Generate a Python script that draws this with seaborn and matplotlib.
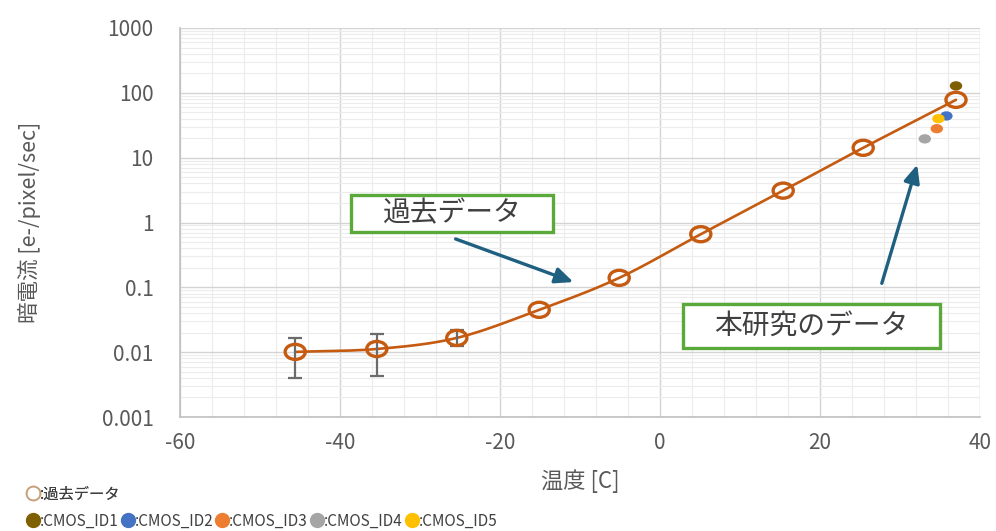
import numpy as np
import pandas as pd
import matplotlib
matplotlib.use("Agg")
import matplotlib.pyplot as plt
from matplotlib.ticker import MultipleLocator, LogLocator, FixedLocator, NullFormatter
from matplotlib.lines import Line2D
from matplotlib.patches import Rectangle
from matplotlib.path import Path
import seaborn as sns

# ---- data ----
past_temp = [-45.6, -35.4, -25.4, -15.1, -5.1, 5.1, 15.4, 25.4, 37.0]
past_dark = [0.0101, 0.0112, 0.0166, 0.045, 0.14, 0.66, 3.1, 14.2, 78.0]
err_temp = [-45.6, -35.4, -25.4]
err_center = [0.0101, 0.0112, 0.0166]
err_high = [0.0165, 0.0188, 0.0218]
err_low = [0.0040, 0.0043, 0.0123]

cmos_names = ["CMOS_ID1", "CMOS_ID2", "CMOS_ID3", "CMOS_ID4", "CMOS_ID5"]
cmos_temp = [37.0, 35.8, 34.6, 33.1, 34.8]
cmos_dark = [128.0, 44.0, 28.0, 19.5, 40.0]
cmos_colors = ["#7F6000", "#4472C4", "#ED7D31", "#A5A5A5", "#FFC000"]

x_ticks = [-60, -40, -20, 0, 20, 40]
y_ticks = [0.001, 0.01, 0.1, 1, 10, 100, 1000]
y_tick_labels = ["0.001", "0.01", "0.1", "1", "10", "100", "1000"]

LINE_C = "#C55A11"
TXT_C = "#595959"

sns.set_theme(style="white")
plt.rcParams['font.family'] = ['Noto Sans CJK JP', 'DejaVu Sans']
plt.rcParams['axes.unicode_minus'] = False

fig = plt.figure(figsize=(9.96, 5.31), dpi=100)
ax = fig.add_axes([180/996, 1-417/531, 800/996, (417-28)/531])

# smooth curve (Catmull-Rom in log space), like Excel smoothed line
def catmull(xs, ys, n=30):
    xs = np.asarray(xs, float); ys = np.asarray(ys, float)
    px = np.concatenate([[2*xs[0]-xs[1]], xs, [2*xs[-1]-xs[-2]]])
    py = np.concatenate([[2*ys[0]-ys[1]], ys, [2*ys[-1]-ys[-2]]])
    outx, outy = [], []
    t = np.linspace(0, 1, n, endpoint=False)
    for i in range(1, len(px)-2):
        p0, p1, p2, p3 = px[i-1], px[i], px[i+1], px[i+2]
        q0, q1, q2, q3 = py[i-1], py[i], py[i+1], py[i+2]
        def cr(a0, a1, a2, a3):
            return 0.5*((2*a1) + (-a0+a2)*t + (2*a0-5*a1+4*a2-a3)*t**2 + (-a0+3*a1-3*a2+a3)*t**3)
        outx.append(cr(p0, p1, p2, p3)); outy.append(cr(q0, q1, q2, q3))
    outx.append([xs[-1]]); outy.append([ys[-1]])
    return np.concatenate(outx), np.concatenate(outy)

sx, sy = catmull(past_temp, np.log10(past_dark))
smooth = pd.DataFrame({"t": sx, "d": 10**sy})
sns.lineplot(data=smooth, x="t", y="d", ax=ax, color=LINE_C, lw=1.9, sort=False, zorder=3)

# error bars
ax.errorbar(err_temp, err_center,
            yerr=[np.array(err_center)-np.array(err_low), np.array(err_high)-np.array(err_center)],
            fmt="none", ecolor="#6b6b6b", elinewidth=1.6, capsize=5, capthick=1.6, zorder=4)

# slightly wide ellipse marker (as in the reference)
circ = Path.unit_circle()
ellipse = Path(circ.vertices * np.array([1.0, 0.75]), circ.codes)

past = pd.DataFrame({"t": past_temp, "d": past_dark})
sns.scatterplot(data=past, x="t", y="d", ax=ax, s=210, marker=ellipse, facecolor="none",
                edgecolor=LINE_C, linewidth=2.4, zorder=5)

cm = pd.DataFrame({"t": cmos_temp, "d": cmos_dark, "n": cmos_names})
sns.scatterplot(data=cm, x="t", y="d", hue="n", palette=dict(zip(cmos_names, cmos_colors)),
                ax=ax, s=80, marker=ellipse, edgecolor="none", legend=False, zorder=6)

ax.set_yscale("log")
ax.set_xlim(-60, 40)
ax.set_ylim(0.001, 1000)
ax.xaxis.set_major_locator(FixedLocator(x_ticks))
ax.xaxis.set_minor_locator(MultipleLocator(4))
ax.yaxis.set_major_locator(FixedLocator(y_ticks))
ax.set_yticklabels(y_tick_labels)
ax.yaxis.set_minor_locator(LogLocator(base=10, subs=np.arange(2, 10)))
ax.yaxis.set_minor_formatter(NullFormatter())
ax.grid(which="major", color="#d4d4d4", lw=1.0)
ax.grid(which="minor", color="#ececec", lw=0.8)
ax.set_axisbelow(True)
for s in ["top", "right"]:
    ax.spines[s].set_visible(False)
for s in ["left", "bottom"]:
    ax.spines[s].set_color("#c0c0c0")
    ax.spines[s].set_linewidth(1.2)
ax.tick_params(axis="both", which="both", length=0, labelsize=15, labelcolor=TXT_C)
ax.tick_params(axis="x", pad=11)
ax.tick_params(axis="y", pad=19)
ax.set_xlabel("温度 [C]", fontsize=16, color=TXT_C)
ax.xaxis.set_label_coords(0.5, -(481-417)/389 + 0.0)
ax.xaxis.label.set_va("center")
ax.set_ylabel("暗電流 [e-/pixel/sec]", fontsize=15.5, color=TXT_C)
ax.yaxis.set_label_coords(-(180-29)/800, 0.5)
ax.yaxis.label.set_va("center")

# annotations
ARROW_C = "#1F5F80"
ax.annotate("", xy=(576, 531-283), xycoords="figure pixels",
            xytext=(453, 531-238), textcoords="figure pixels",
            arrowprops=dict(arrowstyle="-|>,head_length=0.9,head_width=0.4", color=ARROW_C, lw=2.4))
ax.annotate("", xy=(918, 531-162), xycoords="figure pixels",
            xytext=(881, 531-286), textcoords="figure pixels",
            arrowprops=dict(arrowstyle="-|>,head_length=0.9,head_width=0.4", color=ARROW_C, lw=2.4))
BOX_C = "#5BA83B"
def box(x0, y0, x1, y1, text):
    fig.add_artist(Rectangle((x0/996, 1-y1/531), (x1-x0)/996, (y1-y0)/531,
                             transform=fig.transFigure, fc="white", ec=BOX_C, lw=2.4, zorder=7))
    fig.text((x0+x1)/2/996, 1-(y0+y1)/2/531, text, ha="center", va="center",
             fontsize=20, color="#404040", zorder=8)
box(351, 195, 553, 232, "過去データ")
box(683, 304, 940, 348, "本研究のデータ")

# legends under the chart
h1 = [Line2D([], [], marker="o", ls="none", mfc="none", mec="#C9A27E", mew=1.2, ms=10)]
leg1 = fig.legend(h1, [":過去データ"], loc="center left", bbox_to_anchor=(26/996, 1-494/531),
                  frameon=False, fontsize=11, handlelength=0.9, handletextpad=0.0,
                  labelcolor="#404040", borderaxespad=0, borderpad=0)
fig.add_artist(leg1)
h2 = [Line2D([], [], marker="o", ls="none", mfc=c, mec=c, ms=10) for c in cmos_colors]
fig.legend(h2, [":" + n for n in cmos_names], loc="center left", bbox_to_anchor=(26/996, 1-521/531),
           ncol=5, frameon=False, fontsize=11, handlelength=0.9, handletextpad=0.0,
           columnspacing=0.15, labelcolor="#404040", borderaxespad=0, borderpad=0)

fig.savefig("out.png", dpi=100)
